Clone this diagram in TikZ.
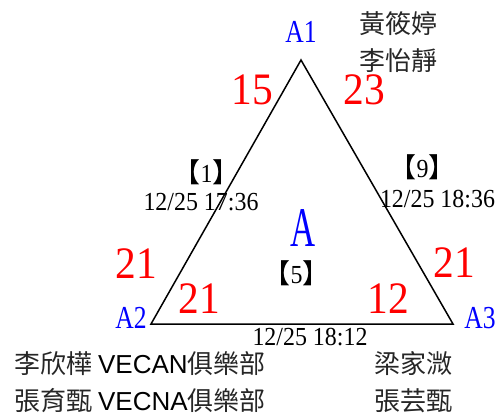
\documentclass[tikz,border=0pt]{standalone}
\usepackage{fontspec}
\newfontfamily\rednumfont[FakeStretch=0.92]{Liberation Serif}
\newfontfamily\bluelabfont[FakeStretch=0.8]{Liberation Serif}
\newfontfamily\bigAfont[FakeStretch=0.62]{Liberation Serif}
\newfontfamily\datefont[FakeStretch=0.92]{Liberation Serif}
\newfontfamily\cjkfont{Noto Sans CJK TC}
\newfontfamily\cjkhalffont[RawFeature=+halt]{Noto Sans CJK TC}
\newfontfamily\arialfont{Liberation Sans}
\definecolor{myred}{RGB}{255,0,0}
\definecolor{myblue}{RGB}{0,0,255}
\tikzset{
  rednum/.style={text=myred, inner sep=0pt, font=\rednumfont\fontsize{45}{45}\selectfont},
  bluelab/.style={text=myblue, inner sep=0pt, font=\bluelabfont\fontsize{32}{32}\selectfont},
  bigA/.style={text=myblue, inner sep=0pt, font=\bigAfont\fontsize{56}{56}\selectfont},
  datelab/.style={text=black, inner sep=0pt, font=\datefont\fontsize{26}{26}\selectfont},
  matchlab/.style={text=black, inner sep=0pt, font=\datefont\fontsize{26}{26}\selectfont},
  namelab/.style={text=black!85, inner sep=0pt, font=\cjkfont\fontsize{26}{26}\selectfont},
  edge/.style={line width=1.5pt, line join=miter}
}
\newcommand{\brk}[1]{{\cjkhalffont\fontsize{27}{27}\selectfont【}#1{\cjkhalffont\fontsize{27}{27}\selectfont】}}
\begin{document}
\begin{tikzpicture}[x=1pt,y=-1pt]
\useasboundingbox (0,0) rectangle (501,416);
\coordinate (T) at (301,60);
\coordinate (L) at (151,324);
\coordinate (R) at (453,324);
\draw[edge] (T) -- (L) -- (R) -- cycle;
% vertex labels
\node[bluelab] (a1) at (301,32) {A1};
\node[bluelab] (a2) at (131,318) {A2};
\node[bluelab] (a3) at (480,318) {A3};
\node[bigA] (a) at (303.5,228.5) {A};
% scores
\node[rednum] (s15) at (252.5,90) {15};
\node[rednum] (s23) at (364,90) {23};
\node[rednum] (s21a) at (136.5,264) {21};
\node[rednum] (s21b) at (199,299) {21};
\node[rednum] (s21c) at (454,263) {21};
\node[rednum] (s12) at (388.5,299) {12};
% match labels
\node[matchlab] (m1) at (206.5,172) {\brk{1}};
\node[datelab] (d1) at (201,202) {12/25 17:36};
\node[matchlab] (m9) at (422.5,167) {\brk{9}};
\node[datelab] (d9) at (437.5,199) {12/25 18:36};
\node[matchlab] (m5) at (296.5,273) {\brk{5}};
\node[datelab] (d5) at (310,337) {12/25 18:12};
% names
\node[namelab] (n1) at (398,24) {黃筱婷};
\node[namelab] (n2) at (398,61) {李怡靜};
\node[namelab] (n3) at (140,364) {李欣樺 {\arialfont\color{black}VECAN}俱樂部};
\node[namelab] (n4) at (140,401) {張育甄 {\arialfont\color{black}VECNA}俱樂部};
\node[namelab] (n5) at (413,364) {梁家溦};
\node[namelab] (n6) at (413,401) {張芸甄};
\end{tikzpicture}
\end{document}
